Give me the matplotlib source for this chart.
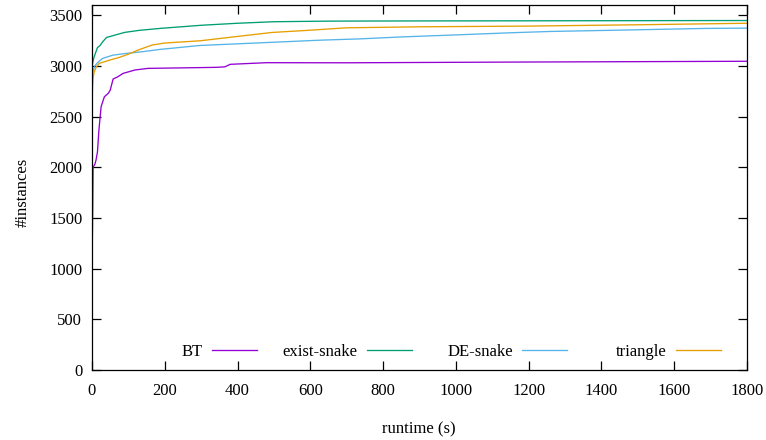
import matplotlib
matplotlib.use("Agg")
import matplotlib.pyplot as plt
from matplotlib.lines import Line2D
from matplotlib.legend import Legend

plt.rcParams['font.family'] = ['Liberation Serif', 'DejaVu Serif']

# BT
bt_t = [0, 2, 3, 8, 11, 15, 19, 25, 34, 45, 50, 58, 70, 85, 118, 154, 250, 340, 365, 380, 480, 700, 1149, 1400, 1800]
bt_v = [1000, 1600, 2000, 2030, 2070, 2150, 2366, 2597, 2695, 2730, 2760, 2870, 2890, 2925, 2959, 2975, 2980, 2985, 2990, 3015, 3031, 3030, 3037, 3040, 3045]

# exist-snake
es_t = [0, 2, 5, 10, 15, 22, 30, 40, 60, 90, 130, 190, 300, 400, 500, 650, 900, 1200, 1800]
es_v = [2990, 3030, 3080, 3130, 3180, 3200, 3240, 3280, 3300, 3330, 3350, 3370, 3400, 3420, 3435, 3441, 3443, 3444, 3447]

# DE-snake
de_t = [0, 3, 8, 15, 29, 57, 93, 140, 187, 297, 450, 627, 737, 850, 1000, 1149, 1259, 1450, 1685, 1800]
de_v = [2860, 2950, 3000, 3030, 3073, 3105, 3122, 3140, 3162, 3201, 3225, 3253, 3266, 3285, 3305, 3326, 3339, 3352, 3369, 3372]

# triangle
tr_t = [0, 1, 3, 6, 12, 20, 48, 75, 100, 130, 165, 200, 297, 400, 494, 593, 700, 900, 1200, 1500, 1800]
tr_v = [2400, 2750, 2880, 2941, 2990, 3024, 3056, 3083, 3115, 3160, 3205, 3225, 3247, 3290, 3329, 3350, 3375, 3385, 3392, 3405, 3420]

series_names = ["BT", "exist-snake", "DE-snake", "triangle"]
series_colors = ["#9400d3", "#009e73", "#56b4e9", "#e69f00"]
series_data = [(bt_t, bt_v), (es_t, es_v), (de_t, de_v), (tr_t, tr_v)]

x_ticks = [0, 200, 400, 600, 800, 1000, 1200, 1400, 1600, 1800]
y_ticks = [0, 500, 1000, 1500, 2000, 2500, 3000, 3500]

fig = plt.figure(figsize=(7.66, 4.40), dpi=100)
ax = fig.add_axes([92/766, 70/440, 655/766, 365/440])

for (t, v), c in zip(series_data, series_colors):
    ax.plot(t, v, color=c, lw=0.95)

ax.set_xlim(0, 1800)
ax.set_ylim(0, 3600)
ax.set_xticks(x_ticks)
ax.set_yticks(y_ticks)
ax.tick_params(direction='in', top=True, right=True, length=6.5, width=0.9,
               labelsize=12, pad=7)
ax.tick_params(axis='x', pad=9)
for s in ax.spines.values():
    s.set_linewidth(0.9)

ax.set_xlabel("runtime (s)", fontsize=12)
ax.xaxis.set_label_coords(0.499, -0.164)
ax.xaxis.label.set_va('center')
ax.set_ylabel("#instances", fontsize=12)
ax.yaxis.set_label_coords(-0.106, 0.488)
ax.yaxis.label.set_va('center')

# gnuplot-style key: text right-aligned, sample to its right
right_edges = [(257 - 92) / 655, (412 - 92) / 655, (567 - 92) / 655, (721 - 92) / 655]
for name, c, xr in zip(series_names, series_colors, right_edges):
    h = Line2D([], [], color=c, lw=0.95)
    leg = Legend(ax, [h], [name], loc='center right', bbox_to_anchor=(xr, (370 - 352) / 365),
                 bbox_transform=ax.transAxes,
                 frameon=False, markerfirst=False, fontsize=12, borderpad=0,
                 borderaxespad=0, handlelength=2.7, handletextpad=0.55)
    ax.add_artist(leg)

fig.savefig("out.png", dpi=100)
